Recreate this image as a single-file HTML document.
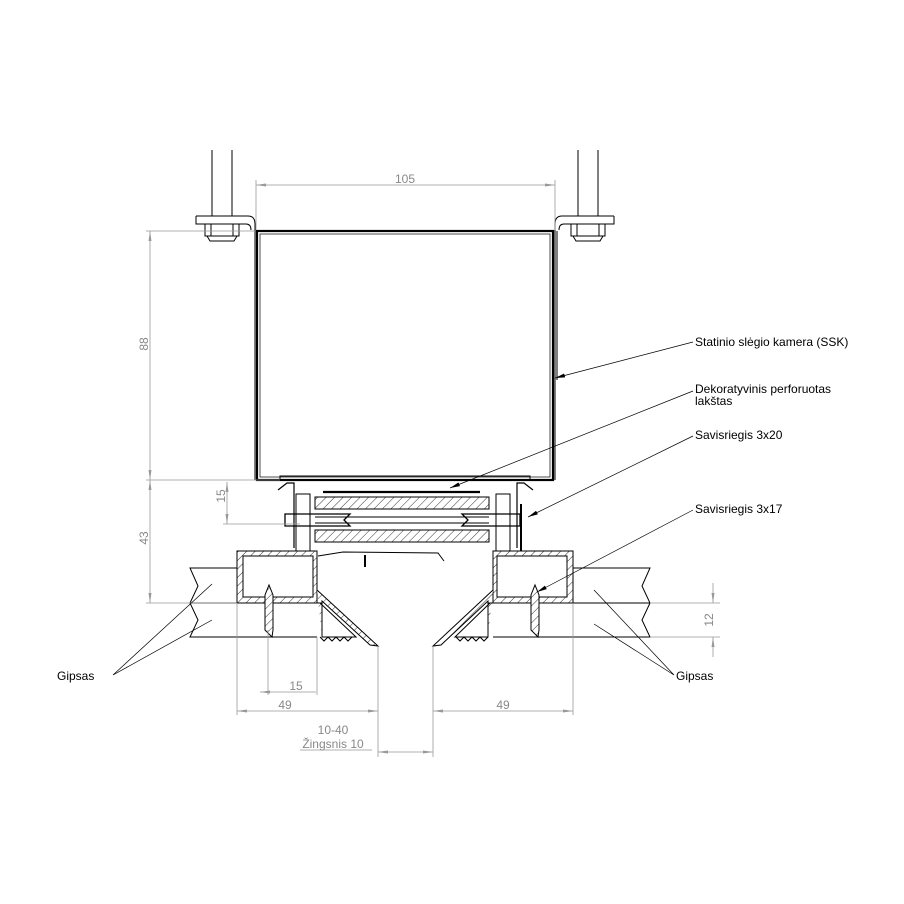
<!DOCTYPE html>
<html><head><meta charset="utf-8"><style>
html,body{margin:0;padding:0;background:#fff}
svg{display:block}
text{font-family:"Liberation Sans",sans-serif}
</style></head><body>
<svg width="904" height="904" viewBox="0 0 904 904" xmlns="http://www.w3.org/2000/svg">
<defs>
<pattern id="h" width="6" height="6" patternUnits="userSpaceOnUse" patternTransform="rotate(45)">
<rect width="6" height="6" fill="#fff"/><line x1="0" y1="0" x2="0" y2="6" stroke="#000" stroke-width="0.8"/></pattern>
<marker id="a" markerWidth="10" markerHeight="6" refX="10" refY="3" orient="auto-start-reverse" markerUnits="userSpaceOnUse"><path d="M0,1.5L10,3L0,4.5z" fill="#999"/></marker>
<marker id="b" markerWidth="10" markerHeight="6" refX="10" refY="3" orient="auto" markerUnits="userSpaceOnUse"><path d="M0,1L10,3L0,5z" fill="#000"/></marker>
</defs>
<g fill="none" stroke="#000" stroke-width="1">
<!-- rods -->
<line x1="212" y1="150" x2="212" y2="216"/><line x1="232" y1="150" x2="232" y2="216"/>
<line x1="578" y1="150" x2="578" y2="216"/><line x1="598" y1="150" x2="598" y2="216"/>
<!-- flanges -->
<path d="M196,216H248Q255,216 255,224V480"/><path d="M196,216V224H246Q251,224 251,230"/>
<path d="M614,216H562Q555,216 555,224V480"/><path d="M614,216V224H564Q559,224 559,230"/>
<!-- nuts -->
<rect x="205" y="224" width="34" height="12"/><rect x="211" y="224" width="22" height="12"/><path d="M207,236H237L234,241H210Z"/>
<rect x="571" y="224" width="34" height="12"/><rect x="577" y="224" width="22" height="12"/><path d="M573,236H603L600,241H576Z"/>
<!-- box -->
<rect x="257" y="231" width="296" height="249" stroke-width="2.2"/>
<rect x="260" y="234" width="290" height="243" stroke-width="0.7"/>
<line x1="557" y1="231" x2="557" y2="380"/>
<!-- middle assembly -->
<path d="M280,480V476H530V480" />
<path d="M278,490L287,483H294V548M533,490L524,483H517V548" stroke-width="1.2"/>
<rect x="296" y="494" width="14" height="57"/><rect x="496" y="494" width="14" height="57"/>
<line x1="323" y1="492" x2="480" y2="492" stroke-width="2.2"/>
<rect x="315" y="497" width="174" height="12" fill="url(#h)"/>
<rect x="315" y="530" width="174" height="12" fill="url(#h)"/>
<line x1="315" y1="517" x2="489" y2="517"/><line x1="315" y1="523" x2="489" y2="523"/>
<path d="M285,514H350L344,520L350,526H285ZM520,514H462L468,520L462,526H520Z" stroke-width="1.3"/>
<line x1="521" y1="504" x2="521" y2="551" stroke-width="2"/>
<path d="M318,556L343,552L438,553L444,561" stroke-width="1"/><line x1="365" y1="555" x2="365" y2="567" stroke-width="2"/>
<!-- gypsum -->
<path d="M237,568H190L198,586L190,603L198,620L190,637H317"/><line x1="190" y1="603" x2="237" y2="603"/>
<path d="M573,568H650L642,586L650,603L642,620L650,637H493"/><line x1="573" y1="603" x2="650" y2="603"/>
<!-- left profile -->
<path d="M237,551H317V603H237Z" fill="url(#h)"/><rect x="243" y="556" width="70" height="41" fill="#fff"/>
<path d="M317,590L378,646L370,645L322,601V637" fill="url(#h)"/>
<path d="M317,603H322V637H356L320,603" />
<path d="M320,637l4,4 4,-4 4,4 4,-4 4,4 4,-4 4,4 4,-4"/>
<!-- right profile -->
<path d="M493,551H573V603H493Z" fill="url(#h)"/><rect x="497" y="556" width="70" height="41" fill="#fff"/>
<path d="M493,590L433,646L441,645L488,601V637" fill="url(#h)"/>
<path d="M493,603H488V637H455L490,603"/>
<path d="M488,637l-4,4 -4,-4 -4,4 -4,-4 -4,4 -4,-4 -4,4 -4,-4"/>
<!-- screws -->
<path d="M272,637L265,630V595L269,585L273,595V630Z" fill="url(#h)"/>
<path d="M538,637L531,630V595L535,585L539,595V630Z" fill="url(#h)"/>
</g>
<!-- dimensions -->
<g stroke="#999" stroke-width="0.8" fill="none">
<line x1="256" y1="185" x2="555" y2="185" marker-start="url(#a)" marker-end="url(#a)"/>
<line x1="256" y1="180" x2="256" y2="230"/><line x1="555" y1="180" x2="555" y2="230"/>
<line x1="146" y1="231" x2="255" y2="231"/><line x1="146" y1="480" x2="280" y2="480"/><line x1="146" y1="603" x2="237" y2="603"/>
<line x1="150" y1="231" x2="150" y2="480" marker-start="url(#a)" marker-end="url(#a)"/>
<line x1="150" y1="480" x2="150" y2="603" marker-start="url(#a)" marker-end="url(#a)"/>
<line x1="223" y1="524" x2="300" y2="524"/>
<line x1="227" y1="482" x2="227" y2="524" marker-start="url(#a)" marker-end="url(#a)"/>
<line x1="268" y1="630" x2="268" y2="695"/><line x1="317" y1="637" x2="317" y2="695"/>
<line x1="260" y1="692" x2="316" y2="692" marker-start="url(#a)"/>
<line x1="237" y1="603" x2="237" y2="715"/><line x1="378" y1="646" x2="378" y2="757"/>
<line x1="237" y1="711" x2="378" y2="711" marker-start="url(#a)" marker-end="url(#a)"/>
<line x1="433" y1="646" x2="433" y2="757"/><line x1="573" y1="603" x2="573" y2="715"/>
<line x1="433" y1="711" x2="573" y2="711" marker-start="url(#a)" marker-end="url(#a)"/>
<line x1="378" y1="752" x2="433" y2="752" marker-start="url(#a)" marker-end="url(#a)"/>
<line x1="300" y1="750" x2="372" y2="750"/>
<line x1="650" y1="603" x2="720" y2="603"/><line x1="650" y1="637" x2="720" y2="637"/>
<line x1="713" y1="583" x2="713" y2="603" marker-end="url(#a)"/><line x1="713" y1="657" x2="713" y2="637" marker-end="url(#a)"/>
</g>
<g fill="#888" font-size="12">
<text x="405" y="183" text-anchor="middle">105</text>
<text transform="translate(148,344) rotate(-90)" text-anchor="middle">88</text>
<text transform="translate(148,538) rotate(-90)" text-anchor="middle">43</text>
<text transform="translate(225,496) rotate(-90)" text-anchor="middle">15</text>
<text transform="translate(713,620) rotate(-90)" text-anchor="middle">12</text>
<text x="296" y="690" text-anchor="middle">15</text>
<text x="285" y="709" text-anchor="middle">49</text>
<text x="503" y="709" text-anchor="middle">49</text>
<text x="333" y="734" text-anchor="middle">10-40</text>
<text x="333" y="748" text-anchor="middle">Žingsnis 10</text>
</g>
<!-- leaders -->
<g stroke="#000" stroke-width="0.7" fill="none">
<line x1="693" y1="342" x2="555" y2="378" marker-end="url(#b)"/>
<line x1="693" y1="391" x2="450" y2="488" marker-end="url(#b)"/>
<line x1="693" y1="436" x2="528" y2="517" marker-end="url(#b)"/>
<line x1="693" y1="510" x2="537" y2="592" marker-end="url(#b)"/>
<path d="M212,584L113,675L212,620"/>
<path d="M594,590L674,675L594,624"/>
</g>
<g font-size="12" fill="#000">
<text x="695" y="346">Statinio slėgio kamera (SSK)</text>
<text x="695" y="393">Dekoratyvinis perforuotas</text>
<text x="695" y="405">lakštas</text>
<text x="695" y="439">Savisriegis 3x20</text>
<text x="695" y="513">Savisriegis 3x17</text>
<text x="57" y="680">Gipsas</text>
<text x="676" y="680">Gipsas</text>
</g>
</svg>
</body></html>
